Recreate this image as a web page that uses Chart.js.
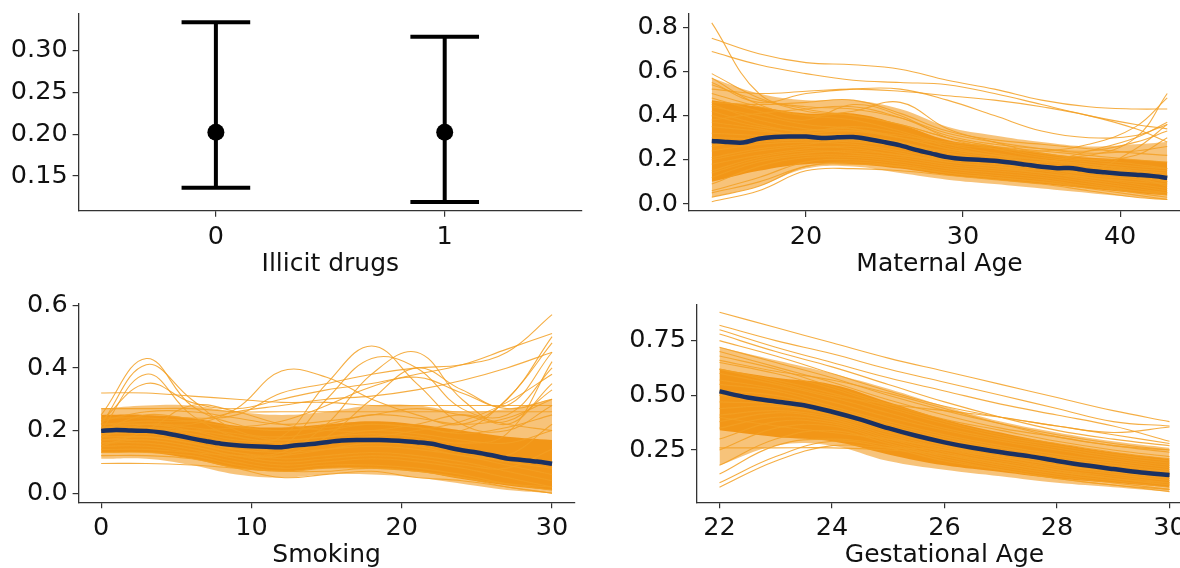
<!DOCTYPE html>
<html><head><meta charset="utf-8">
<script src="https://cdn.jsdelivr.net/npm/chart.js@4.4.1/dist/chart.umd.min.js"></script>
<style>
html,body{margin:0;padding:0;background:#fff;}
#wrap{position:relative;width:1180px;height:568px;overflow:hidden;background:#fff;}
canvas{position:absolute;}
</style></head><body>
<div id="wrap">
<canvas id="cTL" width="600" height="304" style="left:0;top:-20px"></canvas>
<canvas id="cTR" width="620" height="304" style="left:590px;top:-20px"></canvas>
<canvas id="cBL" width="600" height="314" style="left:0;top:264px"></canvas>
<canvas id="cBR" width="620" height="314" style="left:590px;top:264px"></canvas>
</div>
<script>
// ---------------- Panel 1: Illicit drugs ----------------
const DRUG_GROUPS = [0, 1];
const DRUG_EST = [0.2024, 0.2024];
const DRUG_LOWER = [0.136, 0.1188];
const DRUG_UPPER = [0.334, 0.3168];
const DRUG_X_TICKS = [0, 1];
const DRUG_X_LABELS = ['0', '1'];
const DRUG_Y_TICKS = [0.15, 0.20, 0.25, 0.30];
const DRUG_Y_LABELS = ['0.15', '0.20', '0.25', '0.30'];

// ---------------- Panel 2: Maternal Age ----------------
const MA_X = [14, 17, 20, 23, 26, 29, 32, 35, 38, 41, 43];
const MA_OUTER_LOW  = [0.03, 0.08, 0.16, 0.17, 0.14, 0.11, 0.09, 0.07, 0.05, 0.03, 0.02];
const MA_OUTER_HIGH = [0.57, 0.50, 0.47, 0.47, 0.43, 0.35, 0.31, 0.28, 0.26, 0.27, 0.28];
const MA_BAND_LOW  = [0.10, 0.15, 0.18, 0.18, 0.16, 0.13, 0.11, 0.09, 0.07, 0.05, 0.04];
const MA_BAND_HIGH = [0.47, 0.44, 0.41, 0.41, 0.36, 0.29, 0.26, 0.23, 0.21, 0.20, 0.19];
const MA_CURVES = [
  [0.82,0.50,0.43,0.40,0.36,0.30,0.26,0.23,0.20,0.18,0.16],
  [0.75,0.68,0.64,0.63,0.61,0.56,0.52,0.47,0.44,0.43,0.43],
  [0.69,0.63,0.59,0.56,0.55,0.54,0.50,0.45,0.40,0.36,0.34],
  [0.59,0.48,0.42,0.40,0.36,0.30,0.26,0.22,0.20,0.22,0.30],
  [0.57,0.45,0.40,0.42,0.46,0.34,0.28,0.23,0.22,0.30,0.50],
  [0.55,0.46,0.50,0.52,0.52,0.47,0.40,0.33,0.30,0.31,0.36],
  [0.52,0.50,0.51,0.52,0.51,0.49,0.47,0.44,0.40,0.34,0.28],
  [0.50,0.44,0.40,0.38,0.33,0.27,0.23,0.20,0.18,0.16,0.15],
  [0.48,0.42,0.38,0.45,0.40,0.30,0.25,0.21,0.19,0.17,0.16],
  [0.45,0.38,0.34,0.33,0.30,0.25,0.22,0.19,0.24,0.30,0.37],
  [0.42,0.36,0.32,0.31,0.28,0.23,0.20,0.18,0.16,0.14,0.13],
  [0.40,0.35,0.33,0.35,0.32,0.26,0.22,0.20,0.18,0.15,0.12],
  [0.37,0.34,0.30,0.29,0.26,0.22,0.19,0.17,0.15,0.13,0.11],
  [0.35,0.33,0.31,0.30,0.27,0.24,0.21,0.19,0.17,0.14,0.10],
  [0.32,0.31,0.30,0.31,0.28,0.22,0.20,0.17,0.15,0.14,0.13],
  [0.30,0.30,0.33,0.34,0.30,0.25,0.22,0.20,0.17,0.15,0.14],
  [0.27,0.28,0.29,0.28,0.26,0.21,0.19,0.16,0.14,0.12,0.10],
  [0.24,0.27,0.28,0.27,0.24,0.20,0.18,0.16,0.13,0.11,0.09],
  [0.21,0.25,0.27,0.29,0.27,0.22,0.19,0.17,0.14,0.12,0.08],
  [0.18,0.22,0.25,0.26,0.23,0.19,0.17,0.15,0.12,0.09,0.07],
  [0.15,0.21,0.24,0.23,0.21,0.18,0.16,0.14,0.11,0.08,0.06],
  [0.12,0.19,0.22,0.22,0.20,0.17,0.15,0.13,0.10,0.07,0.05],
  [0.09,0.17,0.21,0.21,0.19,0.16,0.14,0.12,0.09,0.06,0.04],
  [0.06,0.12,0.19,0.20,0.18,0.15,0.13,0.11,0.08,0.05,0.03],
  [0.03,0.08,0.17,0.18,0.17,0.14,0.12,0.10,0.07,0.04,0.02],
  [0.01,0.06,0.15,0.16,0.15,0.13,0.11,0.09,0.06,0.03,0.02],
  [0.44,0.40,0.36,0.34,0.30,0.27,0.25,0.24,0.27,0.35,0.48],
  [0.26,0.30,0.32,0.33,0.31,0.28,0.26,0.24,0.22,0.20,0.19],
  [0.20,0.24,0.26,0.25,0.22,0.20,0.18,0.16,0.15,0.25,0.36],
  [0.14,0.20,0.23,0.24,0.22,0.19,0.17,0.14,0.12,0.10,0.09],
  [0.54,0.47,0.44,0.43,0.39,0.32,0.28,0.25,0.23,0.24,0.26],
  [0.46,0.45,0.46,0.47,0.41,0.33,0.29,0.27,0.25,0.23,0.22],
  [0.05,0.10,0.17,0.19,0.17,0.14,0.12,0.10,0.08,0.06,0.05],
  [0.38,0.41,0.43,0.44,0.39,0.31,0.27,0.25,0.24,0.28,0.33]
];
const MA_MEAN_X = [14,15,16,17,18,19,20,21,22,23,24,25,26,27,28,29,30,31,32,33,34,35,36,37,38,39,40,41,42,43];
const MA_MEAN = [0.285,0.28,0.278,0.295,0.303,0.305,0.305,0.298,0.302,0.303,0.293,0.28,0.265,0.245,0.228,0.212,0.203,0.2,0.196,0.188,0.178,0.168,0.162,0.162,0.15,0.143,0.137,0.132,0.127,0.118];
const MA_X_TICKS = [20, 30, 40];
const MA_X_LABELS = ['20', '30', '40'];
const MA_Y_TICKS = [0, 0.2, 0.4, 0.6, 0.8];
const MA_Y_LABELS = ['0.0', '0.2', '0.4', '0.6', '0.8'];

// ---------------- Panel 3: Smoking ----------------
const SM_X = [0, 3, 6, 9, 12, 15, 18, 21, 24, 27, 30];
const SM_OUTER_LOW  = [0.11, 0.11, 0.09, 0.06, 0.05, 0.06, 0.06, 0.05, 0.03, 0.01, 0.00];
const SM_OUTER_HIGH = [0.27, 0.28, 0.28, 0.26, 0.25, 0.26, 0.28, 0.28, 0.26, 0.27, 0.30];
const SM_BAND_LOW  = [0.13, 0.13, 0.11, 0.08, 0.07, 0.08, 0.08, 0.07, 0.045, 0.025, 0.01];
const SM_BAND_HIGH = [0.25, 0.25, 0.24, 0.215, 0.21, 0.22, 0.23, 0.22, 0.20, 0.18, 0.17];
const SM_CURVES = [
  [0.32,0.32,0.31,0.30,0.29,0.29,0.28,0.28,0.28,0.28,0.28],
  [0.27,0.27,0.27,0.26,0.26,0.26,0.26,0.26,0.26,0.26,0.26],
  [0.25,0.43,0.28,0.22,0.20,0.22,0.25,0.24,0.22,0.24,0.30],
  [0.22,0.41,0.30,0.20,0.18,0.20,0.22,0.21,0.19,0.21,0.25],
  [0.20,0.38,0.25,0.18,0.17,0.18,0.20,0.19,0.17,0.16,0.20],
  [0.23,0.35,0.29,0.27,0.30,0.33,0.35,0.38,0.41,0.46,0.51],
  [0.20,0.25,0.24,0.25,0.32,0.35,0.38,0.40,0.41,0.45,0.57],
  [0.18,0.22,0.22,0.27,0.39,0.37,0.30,0.25,0.22,0.30,0.50],
  [0.21,0.22,0.20,0.17,0.18,0.35,0.47,0.35,0.22,0.20,0.28],
  [0.19,0.20,0.18,0.15,0.15,0.30,0.43,0.40,0.27,0.25,0.40],
  [0.17,0.18,0.16,0.13,0.13,0.22,0.38,0.45,0.30,0.22,0.35],
  [0.16,0.17,0.15,0.12,0.12,0.18,0.30,0.40,0.33,0.28,0.45],
  [0.24,0.24,0.23,0.21,0.20,0.21,0.22,0.21,0.20,0.30,0.48],
  [0.22,0.22,0.21,0.19,0.17,0.18,0.19,0.18,0.16,0.19,0.42],
  [0.21,0.21,0.19,0.16,0.15,0.16,0.17,0.16,0.13,0.10,0.08],
  [0.19,0.19,0.17,0.14,0.13,0.14,0.15,0.14,0.12,0.09,0.06],
  [0.18,0.18,0.16,0.13,0.11,0.12,0.13,0.12,0.10,0.07,0.04],
  [0.16,0.16,0.14,0.11,0.09,0.10,0.11,0.10,0.08,0.05,0.02],
  [0.15,0.15,0.13,0.10,0.08,0.09,0.09,0.08,0.06,0.03,0.01],
  [0.13,0.13,0.12,0.09,0.07,0.08,0.08,0.07,0.05,0.02,0.00],
  [0.12,0.12,0.11,0.08,0.05,0.06,0.07,0.05,0.04,0.02,0.00],
  [0.095,0.095,0.09,0.08,0.07,0.07,0.08,0.07,0.05,0.03,0.02],
  [0.20,0.20,0.20,0.21,0.23,0.28,0.34,0.37,0.32,0.27,0.30],
  [0.22,0.23,0.23,0.26,0.28,0.30,0.31,0.33,0.36,0.40,0.45],
  [0.20,0.21,0.20,0.18,0.16,0.17,0.18,0.20,0.23,0.29,0.38],
  [0.17,0.17,0.15,0.12,0.10,0.11,0.12,0.11,0.09,0.08,0.14],
  [0.15,0.20,0.28,0.26,0.22,0.20,0.20,0.22,0.25,0.22,0.20],
  [0.23,0.26,0.26,0.24,0.22,0.23,0.25,0.27,0.25,0.23,0.33],
  [0.14,0.14,0.13,0.12,0.12,0.14,0.16,0.15,0.12,0.12,0.22]
];
const SM_MEAN_X = [0,1,2,3,4,5,6,7,8,9,10,11,12,13,14,15,16,17,18,19,20,21,22,23,24,25,26,27,28,29,30];
const SM_MEAN = [0.199,0.202,0.2,0.199,0.194,0.185,0.175,0.166,0.158,0.153,0.15,0.148,0.147,0.153,0.157,0.163,0.168,0.17,0.17,0.169,0.167,0.163,0.158,0.147,0.137,0.13,0.121,0.111,0.106,0.101,0.094];
const SM_X_TICKS = [0, 10, 20, 30];
const SM_X_LABELS = ['0', '10', '20', '30'];
const SM_Y_TICKS = [0, 0.2, 0.4, 0.6];
const SM_Y_LABELS = ['0.0', '0.2', '0.4', '0.6'];

// ---------------- Panel 4: Gestational Age ----------------
const GA_X = [22, 23, 24, 25, 26, 27, 28, 29, 30];
const GA_OUTER_LOW  = [0.18, 0.27, 0.27, 0.20, 0.16, 0.13, 0.10, 0.08, 0.06];
const GA_OUTER_HIGH = [0.72, 0.66, 0.60, 0.53, 0.45, 0.38, 0.33, 0.29, 0.26];
const GA_BAND_LOW  = [0.34, 0.31, 0.29, 0.23, 0.18, 0.15, 0.12, 0.10, 0.08];
const GA_BAND_HIGH = [0.62, 0.58, 0.55, 0.47, 0.39, 0.33, 0.28, 0.24, 0.21];
const GA_CURVES = [
  [0.88,0.81,0.74,0.67,0.61,0.55,0.49,0.43,0.38],
  [0.82,0.75,0.69,0.62,0.56,0.50,0.44,0.38,0.36],
  [0.80,0.72,0.65,0.58,0.52,0.46,0.41,0.36,0.29],
  [0.78,0.70,0.63,0.55,0.47,0.40,0.34,0.30,0.27],
  [0.75,0.68,0.60,0.52,0.45,0.40,0.36,0.32,0.28],
  [0.72,0.65,0.58,0.50,0.43,0.37,0.32,0.28,0.25],
  [0.70,0.63,0.56,0.48,0.41,0.35,0.31,0.27,0.24],
  [0.68,0.62,0.54,0.46,0.39,0.34,0.29,0.25,0.22],
  [0.65,0.60,0.53,0.45,0.38,0.32,0.28,0.24,0.21],
  [0.62,0.57,0.51,0.44,0.37,0.31,0.27,0.23,0.20],
  [0.60,0.55,0.49,0.42,0.35,0.30,0.26,0.22,0.19],
  [0.57,0.53,0.47,0.40,0.34,0.29,0.25,0.21,0.18],
  [0.55,0.52,0.45,0.38,0.32,0.27,0.23,0.20,0.17],
  [0.52,0.50,0.44,0.37,0.31,0.26,0.22,0.19,0.16],
  [0.50,0.48,0.43,0.36,0.30,0.25,0.21,0.18,0.15],
  [0.47,0.46,0.42,0.35,0.29,0.24,0.20,0.17,0.14],
  [0.44,0.45,0.41,0.34,0.28,0.23,0.19,0.16,0.13],
  [0.41,0.43,0.40,0.33,0.27,0.22,0.18,0.15,0.12],
  [0.38,0.42,0.39,0.32,0.26,0.21,0.17,0.14,0.11],
  [0.35,0.40,0.38,0.31,0.25,0.20,0.16,0.13,0.10],
  [0.30,0.38,0.37,0.30,0.24,0.19,0.15,0.12,0.09],
  [0.25,0.35,0.36,0.29,0.23,0.18,0.14,0.11,0.08],
  [0.18,0.30,0.34,0.28,0.22,0.17,0.13,0.10,0.07],
  [0.14,0.27,0.30,0.27,0.21,0.16,0.12,0.09,0.06],
  [0.10,0.22,0.29,0.26,0.20,0.16,0.12,0.09,0.07],
  [0.08,0.20,0.27,0.26,0.25,0.21,0.16,0.12,0.09],
  [0.62,0.56,0.50,0.46,0.43,0.40,0.36,0.33,0.355],
  [0.26,0.26,0.26,0.25,0.23,0.19,0.15,0.12,0.10],
  [0.66,0.61,0.57,0.51,0.44,0.37,0.31,0.27,0.25],
  [0.40,0.36,0.33,0.30,0.26,0.22,0.18,0.15,0.13]
];
const GA_MEAN_X = [22,22.5,23,23.5,24,24.5,25,25.5,26,26.5,27,27.5,28,28.5,29,29.5,30];
const GA_MEAN = [0.518,0.49,0.472,0.455,0.425,0.39,0.35,0.315,0.285,0.26,0.24,0.222,0.2,0.18,0.163,0.147,0.136];
const GA_X_TICKS = [22, 24, 26, 28, 30];
const GA_X_LABELS = ['22', '24', '26', '28', '30'];
const GA_Y_TICKS = [0.25, 0.50, 0.75];
const GA_Y_LABELS = ['0.25', '0.50', '0.75'];

// ---------------- styling & helpers ----------------
const FONT = 'DejaVu Sans';
const ORANGE_LINE = 'rgba(243,160,35,0.85)';
const ORANGE_OUTER = 'rgba(242,152,25,0.58)';
const ORANGE_BAND = 'rgba(241,143,10,0.88)';
const NAVY = '#1a3163';
const AXIS = '#333333';
const TEXT = '#111111';

function pts(xs, ys) { return ys.map((y, i) => ({x: xs[i], y: y})); }

function axis(o) {
  const isX = o.axis === 'x';
  return {
    type: 'linear', min: o.min, max: o.max,
    afterBuildTicks: s => { s.ticks = o.ticks.map(v => ({value: v})); },
    afterFit: s => { if (isX) s.height = 68.5; else s.width = 70; },
    grid: {drawOnChartArea: false, drawTicks: true, tickLength: 6, color: AXIS, lineWidth: 1.2},
    border: {display: true, color: AXIS, width: 1.3},
    ticks: {padding: 5, color: TEXT, autoSkip: false, maxRotation: 0,
             font: {family: FONT, size: 25.5}, callback: (v, i) => o.labels[i]},
    title: isX ? {display: true, text: o.title, color: TEXT, padding: 0,
                  font: {family: FONT, size: 25}} : {display: false}
  };
}

function make(id, p, datasets) {
  new Chart(document.getElementById(id), {
    type: 'line',
    data: {datasets: datasets},
    options: {
      responsive: false, animation: false, devicePixelRatio: 1,
      layout: {padding: p.padding},
      plugins: {legend: {display: false}, tooltip: {enabled: false}},
      elements: {point: {radius: 0}},
      scales: {
        x: axis({axis: 'x', min: p.xMin, max: p.xMax, ticks: p.xTicks, labels: p.xLabels, title: p.title}),
        y: axis({axis: 'y', min: p.yMin, max: p.yMax, ticks: p.yTicks, labels: p.yLabels})
      }
    }
  });
}

function band(xs, low, high, color, order, ds) {
  const bi = ds.length;
  ds.push({data: pts(xs, low), borderWidth: 0, borderColor: 'rgba(0,0,0,0)', tension: 0.4, order: order, fill: false});
  ds.push({data: pts(xs, high), borderWidth: 0, borderColor: 'rgba(0,0,0,0)', tension: 0.4, order: order,
           fill: {target: bi}, backgroundColor: color});
}

function spaghetti(xs, oLow, oHigh, low, high, curves, meanX, mean) {
  const ds = [];
  ds.push({data: pts(meanX, mean), borderColor: NAVY, borderWidth: 4.5, tension: 0.3, order: 0, fill: false});
  curves.forEach(c => ds.push({data: pts(xs, c), borderColor: ORANGE_LINE, borderWidth: 1.1, tension: 0.4, order: 1, fill: false}));
  band(xs, low, high, ORANGE_BAND, 2, ds);
  band(xs, oLow, oHigh, ORANGE_OUTER, 3, ds);
  return ds;
}

// Panel 1 datasets: points + error bars (vertical line and caps)
const CAP_HALF = 0.15;
const drugSets = [];
DRUG_GROUPS.forEach((g, i) => {
  drugSets.push({data: [{x: g, y: DRUG_LOWER[i]}, {x: g, y: DRUG_UPPER[i]}], borderColor: '#000', borderWidth: 4, borderCapStyle: 'butt', order: 1});
  drugSets.push({data: [{x: g - CAP_HALF, y: DRUG_UPPER[i]}, {x: g + CAP_HALF, y: DRUG_UPPER[i]}], borderColor: '#000', borderWidth: 4, order: 1});
  drugSets.push({data: [{x: g - CAP_HALF, y: DRUG_LOWER[i]}, {x: g + CAP_HALF, y: DRUG_LOWER[i]}], borderColor: '#000', borderWidth: 4, order: 1});
});
drugSets.push({data: pts(DRUG_GROUPS, DRUG_EST), showLine: false, pointRadius: 8.5, pointBackgroundColor: '#000', pointBorderColor: '#000', pointBorderWidth: 0, order: 0});

make('cTL', {padding: {left: 8.6, right: 18, top: 34, bottom: 4.8},
  xMin: -0.6, xMax: 1.6, xTicks: DRUG_X_TICKS, xLabels: DRUG_X_LABELS, title: 'Illicit drugs',
  yMin: 0.1085, yMax: 0.344, yTicks: DRUG_Y_TICKS, yLabels: DRUG_Y_LABELS}, drugSets);

make('cTR', {padding: {left: 29, right: 20, top: 34, bottom: 4.5},
  xMin: 12.55, xMax: 44.45, xTicks: MA_X_TICKS, xLabels: MA_X_LABELS, title: 'Maternal Age',
  yMin: -0.032, yMax: 0.86, yTicks: MA_Y_TICKS, yLabels: MA_Y_LABELS},
  spaghetti(MA_X, MA_OUTER_LOW, MA_OUTER_HIGH, MA_BAND_LOW, MA_BAND_HIGH, MA_CURVES, MA_MEAN_X, MA_MEAN));

make('cBL', {padding: {left: 8.6, right: 25.4, top: 40, bottom: 7.2},
  xMin: -1.5, xMax: 31.5, xTicks: SM_X_TICKS, xLabels: SM_X_LABELS, title: 'Smoking',
  yMin: -0.029, yMax: 0.604, yTicks: SM_Y_TICKS, yLabels: SM_Y_LABELS},
  spaghetti(SM_X, SM_OUTER_LOW, SM_OUTER_HIGH, SM_BAND_LOW, SM_BAND_HIGH, SM_CURVES, SM_MEAN_X, SM_MEAN));

make('cBR', {padding: {left: 37, right: 18, top: 41, bottom: 7.2},
  xMin: 21.6, xMax: 30.4, xTicks: GA_X_TICKS, xLabels: GA_X_LABELS, title: 'Gestational Age',
  yMin: 0.011, yMax: 0.913, yTicks: GA_Y_TICKS, yLabels: GA_Y_LABELS},
  spaghetti(GA_X, GA_OUTER_LOW, GA_OUTER_HIGH, GA_BAND_LOW, GA_BAND_HIGH, GA_CURVES, GA_MEAN_X, GA_MEAN));
</script>
</body></html>
